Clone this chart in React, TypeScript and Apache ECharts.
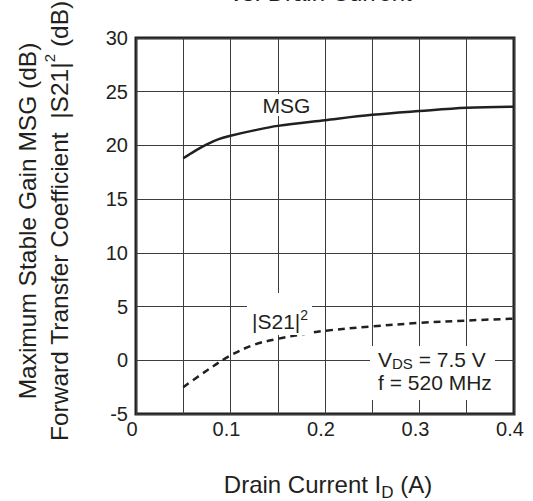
import React, { useEffect, useRef } from 'react';
import * as echarts from 'echarts';

// Drain current (A) and gains (dB)
const msgCurrent = [0.05, 0.0625, 0.075, 0.0875, 0.1, 0.125, 0.15, 0.2, 0.25, 0.3, 0.35, 0.4];
const msgGain = [18.8, 19.5, 20.1, 20.58, 20.9, 21.4, 21.82, 22.35, 22.85, 23.2, 23.5, 23.6];
const s21Current = [0.05, 0.075, 0.1, 0.125, 0.15, 0.175, 0.2, 0.25, 0.3, 0.35, 0.4];
const s21Gain = [-2.5, -0.95, 0.45, 1.45, 2.0, 2.4, 2.75, 3.15, 3.48, 3.7, 3.88];

const xMin = 0;
const xMax = 0.4;
const xStep = 0.1;
const yMin = -5;
const yMax = 30;
const yStep = 5;

const FONT = "'Liberation Sans', Arial, Helvetica, sans-serif";
const TXT = '#231f20';
const GRID = '#3c3c3c';

export default function App() {
  const ref = useRef<HTMLDivElement>(null);

  useEffect(() => {
    document.body.style.margin = '0';
    if (!ref.current) return;
    const chart = echarts.init(ref.current, null, { renderer: 'svg' });

    const msgData = msgCurrent.map((x, i) => [x, msgGain[i]]);
    const s21Data = s21Current.map((x, i) => [x, s21Gain[i]]);

    const textBase = { fontFamily: FONT, fill: TXT };

    chart.setOption({
      animation: false,
      backgroundColor: '#ffffff',
      grid: {
        left: 136,
        right: 19,
        top: 38,
        bottom: 87,
        show: true,
        borderColor: TXT,
        borderWidth: 3,
        backgroundColor: 'transparent',
      },
      xAxis: {
        type: 'value',
        min: xMin,
        max: xMax,
        interval: xStep,
        axisLine: { show: false },
        axisTick: { show: false },
        minorTick: { show: false, splitNumber: 2 },
        splitLine: { show: true, lineStyle: { color: GRID, width: 1 } },
        minorSplitLine: { show: true, lineStyle: { color: GRID, width: 1 } },
        axisLabel: {
          fontFamily: FONT,
          fontSize: 20,
          color: TXT,
          margin: 5,
          padding: [0, 8, 0, 0],
          formatter: (v: number) => String(+v.toFixed(2)),
        },
      },
      yAxis: {
        type: 'value',
        min: yMin,
        max: yMax,
        interval: yStep,
        axisLine: { show: false },
        axisTick: { show: false },
        splitLine: { show: true, lineStyle: { color: GRID, width: 1 } },
        axisLabel: {
          fontFamily: FONT,
          fontSize: 20,
          color: TXT,
          margin: 8,
        },
      },
      series: [
        {
          name: 'MSG',
          type: 'line',
          data: msgData,
          smooth: 0.35,
          showSymbol: false,
          lineStyle: { color: TXT, width: 2.5 },
          z: 5,
        },
        {
          name: '|S21|2',
          type: 'line',
          data: s21Data,
          smooth: 0.35,
          showSymbol: false,
          lineStyle: { color: TXT, width: 2.5, type: [7, 5] },
          z: 5,
        },
      ],
      graphic: [
        {
          type: 'text',
          x: 321,
          y: 4,
          z: 50,
          style: {
            ...textBase,
            text: 'vs. Drain Current',
            fontSize: 24,
            align: 'center',
            textAlign: 'center',
            verticalAlign: 'bottom',
            textVerticalAlign: 'bottom',
          },
        },
        {
          type: 'text',
          x: 27,
          y: 221,
          rotation: Math.PI / 2,
          z: 50,
          style: {
            ...textBase,
            text: 'Maximum Stable Gain MSG (dB)',
            fontSize: 24.5,
            align: 'center',
            textAlign: 'center',
            verticalAlign: 'middle',
            textVerticalAlign: 'middle',
          },
        },
        {
          type: 'text',
          x: 57,
          y: 221,
          rotation: Math.PI / 2,
          z: 50,
          style: {
            ...textBase,
            text: '{n|Forward Transfer Coefficient  |S21|}{sup|2}{n| (dB)}',
            fontSize: 24.5,
            align: 'center',
            textAlign: 'center',
            verticalAlign: 'middle',
            textVerticalAlign: 'middle',
            rich: {
              n: { fontFamily: FONT, fontSize: 24.5, lineHeight: 30, verticalAlign: 'bottom', fill: TXT, color: TXT },
              sup: { fontFamily: FONT, fontSize: 15, lineHeight: 12, verticalAlign: 'top', fill: TXT, color: TXT },
            },
          },
        },
        {
          type: 'text',
          x: 328,
          y: 472,
          z: 50,
          style: {
            ...textBase,
            text: '{n|Drain Current I}{sub|D}{n| (A)}',
            fontSize: 24,
            align: 'center',
            textAlign: 'center',
            verticalAlign: 'top',
            textVerticalAlign: 'top',
            rich: {
              n: { fontFamily: FONT, fontSize: 24, lineHeight: 24, verticalAlign: 'top', fill: TXT, color: TXT },
              sub: { fontFamily: FONT, fontSize: 17, lineHeight: 40, verticalAlign: 'middle', fill: TXT, color: TXT },
            },
          },
        },
        // MSG label
        { type: 'rect', z: 40, shape: { x: 259, y: 94, width: 55, height: 22 }, style: { fill: '#ffffff' } },
        {
          type: 'text',
          x: 286.5,
          y: 105.5,
          z: 50,
          style: {
            ...textBase,
            text: 'MSG',
            fontSize: 21,
            align: 'center',
            textAlign: 'center',
            verticalAlign: 'middle',
            textVerticalAlign: 'middle',
          },
        },
        // |S21|^2 label
        { type: 'rect', z: 40, shape: { x: 247, y: 293, width: 65, height: 42 }, style: { fill: '#ffffff' } },
        {
          type: 'text',
          x: 252,
          y: 308,
          z: 50,
          style: {
            ...textBase,
            text: '{n||S21|}{sup|2}',
            fontSize: 21,
            align: 'left',
            textAlign: 'left',
            verticalAlign: 'top',
            textVerticalAlign: 'top',
            rich: {
              n: { fontFamily: FONT, fontSize: 21, lineHeight: 24, verticalAlign: 'bottom', fill: TXT, color: TXT },
              sup: { fontFamily: FONT, fontSize: 14, lineHeight: 17, verticalAlign: 'top', fill: TXT, color: TXT },
            },
          },
        },
        // Conditions box
        { type: 'rect', z: 40, shape: { x: 370, y: 346, width: 125, height: 54 }, style: { fill: '#ffffff' } },
        {
          type: 'text',
          x: 378,
          y: 349,
          z: 50,
          style: {
            ...textBase,
            text: '{n|V}{s|DS}{n| = 7.5 V}',
            fontSize: 21,
            align: 'left',
            textAlign: 'left',
            verticalAlign: 'top',
            textVerticalAlign: 'top',
            rich: {
              n: { fontFamily: FONT, fontSize: 21, lineHeight: 22, verticalAlign: 'top', fill: TXT, color: TXT },
              s: { fontFamily: FONT, fontSize: 15, lineHeight: 28, verticalAlign: 'middle', fill: TXT, color: TXT },
            },
          },
        },
        {
          type: 'text',
          x: 378,
          y: 382,
          z: 50,
          style: {
            ...textBase,
            text: 'f = 520 MHz',
            fontSize: 21,
            lineHeight: 22,
            align: 'left',
            textAlign: 'left',
            verticalAlign: 'middle',
            textVerticalAlign: 'middle',
          },
        },
      ],
    });

    return () => {
      chart.dispose();
    };
  }, []);

  return <div ref={ref} style={{ width: 533, height: 501 }} />;
}
